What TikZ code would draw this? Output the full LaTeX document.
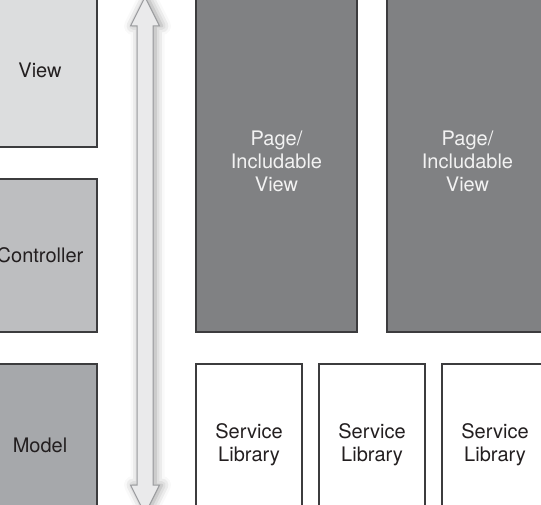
\documentclass[tikz,border=0pt]{standalone}
\usepackage{fontspec}
\setmainfont{TeX Gyre Heros}
\usetikzlibrary{shadows.blur,calc}
\definecolor{viewc}{HTML}{DCDDDE}
\definecolor{ctrlc}{HTML}{BDBEC0}
\definecolor{modelc}{HTML}{A6A8AB}
\definecolor{pagec}{HTML}{808183}
\definecolor{edgec}{HTML}{3C3C3E}
\definecolor{arrowfill}{HTML}{EAEAEB}
\definecolor{arrowedge}{HTML}{9A9B9E}
\definecolor{txt}{HTML}{231F20}
\tikzset{
  box/.style={draw=edgec, line width=1.1pt, inner sep=0pt, text=txt,
    font=\fontsize{20}{23}\selectfont, align=center},
  mvc/.style={box, minimum width=114pt},
  pagebox/.style={box, fill=pagec, text=white!95!black, minimum width=161pt, minimum height=342pt},
  svcbox/.style={box, fill=white, minimum width=106pt, minimum height=162pt},
}
\begin{document}
\begin{tikzpicture}[x=1pt,y=-1pt]
\useasboundingbox (0,0) rectangle (541,505);
\clip (0,0) rectangle (541,505);
% left column
\node[mvc, fill=viewc, minimum height=154pt] (view) at (40,70) {View};
\node[mvc, fill=ctrlc, minimum height=153pt] (ctrl) at (40,255.5) {Controller};
\node[mvc, fill=modelc, minimum height=162pt] (model) at (40,445) {Model};
% right
\node[pagebox] (page1) at (276.5,161) {Page/\\Includable\\View};
\node[pagebox] (page2) at (467.5,161) {Page/\\Includable\\View};
\node[svcbox] (svc1) at (249,445) {Service\\Library};
\node[svcbox] (svc2) at (372,445) {Service\\Library};
\node[svcbox] (svc3) at (495,445) {Service\\Library};
% double arrow
\coordinate (atop) at (145,-3);
\coordinate (abot) at (145,514);
\path[fill=arrowfill, draw=arrowedge, line width=1pt, line join=miter,
  blur shadow={shadow xshift=2.5pt, shadow yshift=0pt, shadow blur radius=9pt, shadow opacity=40}]
  (atop) -- ($(atop)+(14.5,29)$) -- ($(atop)+(8,29)$)
  -- ($(abot)+(8,-29)$) -- ($(abot)+(14.5,-29)$)
  -- (abot) -- ($(abot)+(-14.5,-29)$) -- ($(abot)+(-8,-29)$)
  -- ($(atop)+(-8,29)$) -- ($(atop)+(-14.5,29)$) -- cycle;
\end{tikzpicture}
\end{document}
